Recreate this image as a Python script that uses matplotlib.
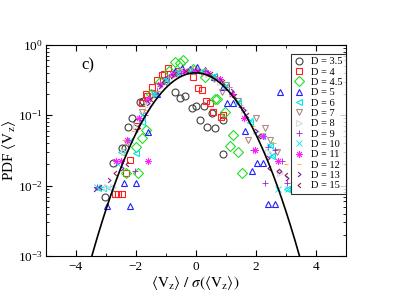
import numpy as np
import matplotlib
matplotlib.use('Agg')
import matplotlib.pyplot as plt
from matplotlib.path import Path
from matplotlib.ticker import MultipleLocator, LogLocator, NullFormatter

plt.rcParams['font.family'] = ['Liberation Serif', 'DejaVu Serif']
plt.rcParams['mathtext.fontset'] = 'stix'

# --- data: (x = <Vz>/sigma, y = PDF) per D ---
x_d35 = [-3.02, -2.74, -2.47, -2.36, -2.26, -2.13, -1.97, -1.86, -1.76, -0.69, -0.52, -0.36,
         -0.13, 0.01, 0.14, 0.28, 0.38, 0.53, 0.64, 0.9, 0.9]
y_d35 = [0.0068, 0.021, 0.034, 0.034, 0.069, 0.09, 0.081, 0.155, 0.16, 0.215, 0.175, 0.19,
         0.125, 0.135, 0.085, 0.135, 0.068, 0.108, 0.065, 0.085, 0.028]

x_d4 = [-2.69, -2.58, -2.45, -2.33, -2.19, -1.99, -1.8, -1.66, -1.62, -1.45, -1.3, -1.13,
        -1.06, -0.92, -0.6, -0.09, 0.08, 0.2, 0.33, 0.48, 0.58, 0.83, 0.91]
y_d4 = [0.0076, 0.0076, 0.0076, 0.015, 0.023, 0.07, 0.15, 0.2, 0.19, 0.25, 0.32, 0.37,
        0.39, 0.47, 0.42, 0.35, 0.24, 0.227, 0.16, 0.15, 0.11, 0.095, 0.1]

x_d45 = [-2.33, -1.93, -1.99, -1.78, -1.66, -1.5, -1.2, -0.9, -0.69, -0.52, -0.42, -0.1, 0.3,
         0.64, 0.7, 0.98, 1.14, 1.25, 1.41, 1.55]
y_d45 = [0.015, 0.015, 0.035, 0.047, 0.062, 0.2, 0.3, 0.42, 0.57, 0.55, 0.6, 0.45, 0.35,
         0.17, 0.168, 0.11, 0.036, 0.052, 0.030, 0.015]

x_d5 = [-2.97, -2.19, -2.39, -1.99, -1.6, -1.3, -1.0, -0.7, -0.47, -0.2, 0.05, 0.31, 0.6,
        0.9, 1.03, 1.25, 1.64, 1.87, 2.03, 2.25, 2.42, 2.64, 2.81]
y_d5 = [0.0052, 0.0052, 0.011, 0.011, 0.058, 0.2, 0.33, 0.42, 0.47, 0.45, 0.48, 0.44, 0.35,
        0.25, 0.147, 0.147, 0.06, 0.016, 0.021, 0.021, 0.0054, 0.0054, 0.21]

x_d6 = [-3.27, -3.08, -2.86, -2.5, -2.0, -1.8, -1.4, -1.0, -0.6, -0.2, 0.2, 0.6, 1.0, 1.4,
        1.8, 2.2, 2.48, 2.54, 3.03]
y_d6 = [0.0093, 0.0093, 0.0093, 0.03, 0.029, 0.08, 0.2, 0.33, 0.42, 0.44, 0.42, 0.36, 0.25,
        0.15, 0.08, 0.05, 0.038, 0.026, 0.009]

x_d7 = [-2.3, -1.8, -1.4, -1.0, -0.6, -0.2, 0.2, 0.6, 0.87, 1.0, 1.4, 1.74, 2.0, 2.31, 2.48, 2.7]
y_d7 = [0.04, 0.11, 0.2, 0.3, 0.38, 0.42, 0.4, 0.33, 0.215, 0.27, 0.16, 0.044, 0.09, 0.065,
        0.044, 0.03]

x_d8 = [-2.97, -2.76, -2.4, -2.0, -1.6, -1.2, -0.8, -0.4, 0.0, 0.4, 0.8, 1.2, 1.6, 2.0, 2.4, 2.8]
y_d8 = [0.0096, 0.0096, 0.03, 0.07, 0.14, 0.25, 0.35, 0.42, 0.42, 0.38, 0.3, 0.2, 0.12, 0.06,
        0.03, 0.015]

x_d9 = [-3.3, -2.5, -2.02, -1.7, -1.3, -0.9, -0.5, -0.1, 0.3, 0.7, 1.1, 1.5, 1.92, 2.31, 2.4,
        2.65, 2.87, 3.03]
y_d9 = [0.0095, 0.022, 0.016, 0.1, 0.22, 0.35, 0.4, 0.42, 0.43, 0.35, 0.25, 0.13, 0.032, 0.011,
        0.035, 0.032, 0.022, 0.011]

x_d10 = [-3.3, -2.6, -2.2, -1.8, -1.4, -1.0, -0.6, -0.2, 0.2, 0.6, 1.0, 1.4, 1.8, 2.2, 2.48,
         2.53, 2.75, 3.08]
y_d10 = [0.0095, 0.02, 0.045, 0.1, 0.2, 0.32, 0.4, 0.43, 0.42, 0.36, 0.27, 0.16, 0.085, 0.05,
         0.037, 0.027, 0.009, 0.009]

x_d11 = [-2.67, -2.49, -2.3, -1.6, -1.9, -1.6, -1.2, -0.8, -0.4, 0.0, 0.4, 0.8, 1.2, 1.6, 1.98,
         2.25, 2.75]
y_d11 = [0.022, 0.022, 0.045, 0.022, 0.09, 0.17, 0.28, 0.38, 0.42, 0.43, 0.4, 0.33, 0.2, 0.09,
         0.032, 0.05, 0.022]

x_d12 = [-2.4, -2.1, -1.7, -1.3, -0.9, -0.5, -0.1, 0.3, 0.7, 1.1, 1.5, 1.9, 2.2, 2.6, 3.0]
y_d12 = [0.045, 0.06, 0.12, 0.22, 0.35, 0.45, 0.5, 0.45, 0.35, 0.25, 0.14, 0.07, 0.055, 0.04, 0.02]

x_d13 = [-3.35, -2.9, -2.45, -2.0, -1.6, -1.2, -0.8, -0.4, 0.0, 0.4, 0.8, 1.2, 1.6, 2.0, 2.4,
         2.8, 3.05]
y_d13 = [0.009, 0.012, 0.018, 0.06, 0.15, 0.26, 0.36, 0.42, 0.42, 0.4, 0.32, 0.22, 0.12, 0.06,
         0.025, 0.016, 0.013]

x_d15 = [-3.2, -2.7, -2.3, -1.9, -1.5, -1.1, -0.7, -0.3, 0.1, 0.5, 0.9, 1.3, 1.7, 2.1, 2.45,
         2.75, 3.0]
y_d15 = [0.0095, 0.015, 0.02, 0.07, 0.17, 0.3, 0.38, 0.42, 0.42, 0.38, 0.3, 0.19, 0.1, 0.05,
         0.018, 0.016, 0.014]

# open caret markers (grace style "right"/"left" arrows)
caret_r = Path([(-0.6, 1), (0.6, 0), (-0.6, -1)], [Path.MOVETO, Path.LINETO, Path.LINETO])
caret_l = Path([(0.6, 1), (-0.6, 0), (0.6, -1)], [Path.MOVETO, Path.LINETO, Path.LINETO])

# label, x, y, marker, colour, open marker?
series = [
    ('D = 3.5', x_d35, y_d35, 'o', '#404040', True),
    ('D = 4', x_d4, y_d4, 's', '#ff2020', True),
    ('D = 4.5', x_d45, y_d45, 'D', '#22dd22', True),
    ('D = 5', x_d5, y_d5, '^', '#2020ff', True),
    ('D = 6', x_d6, y_d6, '<', '#00e5e5', True),
    ('D = 7', x_d7, y_d7, 'v', '#b08a80', True),
    ('D = 8', x_d8, y_d8, '>', '#d8d8d8', True),
    ('D = 9', x_d9, y_d9, '+', '#9a20e0', False),
    ('D = 10', x_d10, y_d10, 'x', '#00e5e5', False),
    ('D = 11', x_d11, y_d11, (8, 2, 0), '#ff20ff', False),
    ('D = 12', x_d12, y_d12, '_', '#ffa500', False),
    ('D = 13', x_d13, y_d13, caret_r, '#7a1fa0', True),
    ('D = 15', x_d15, y_d15, caret_l, '#8b2050', True),
]

fig = plt.figure(figsize=(4.15, 2.94), dpi=100)
ax = fig.add_axes([0.110, 0.129, 0.723, 0.719])

for lab, xs, ys, mk, col, hollow in series:
    ms = 5
    if mk == '_':
        ms = 2.5
    elif isinstance(mk, Path):
        ms = 3.5
    if hollow:
        ax.plot(xs, ys, ls='none', marker=mk, ms=ms, mfc='none', mec=col, mew=0.8, label=lab)
    else:
        ax.plot(xs, ys, ls='none', marker=mk, ms=ms, color=col, mew=0.6, label=lab)

# gaussian reference curve
v = np.linspace(-3.6, 3.6, 300)
ax.plot(v, np.exp(-v ** 2 / 2) / np.sqrt(2 * np.pi), color='black', lw=1.2)

ax.set_yscale('log')
ax.set_xlim(-5, 5)
ax.set_ylim(1e-3, 1)
ax.xaxis.set_major_locator(MultipleLocator(2))
ax.xaxis.set_minor_locator(MultipleLocator(1))
ax.yaxis.set_major_locator(LogLocator(base=10, numticks=10))
ax.yaxis.set_minor_locator(LogLocator(base=10, subs=np.arange(2, 10), numticks=10))
ax.yaxis.set_minor_formatter(NullFormatter())
ax.tick_params(which='both', direction='in', top=True, right=True, labelsize=9.5)
ax.tick_params(which='major', length=4, width=0.8)
ax.tick_params(which='minor', length=2, width=0.6)
ax.tick_params(axis='y', pad=2)

ax.set_xlabel(r'$\langle\mathrm{V_z}\rangle\ /\ \sigma(\langle\mathrm{V_z}\rangle)$', fontsize=11, labelpad=1)
ax.set_ylabel(r'PDF $\langle\mathrm{V_z}\rangle$', fontsize=11, labelpad=0)
ax.text(0.12, 0.9, 'c)', transform=ax.transAxes, fontsize=12, va='center')

leg = ax.legend(loc='upper right', bbox_to_anchor=(1.0, 0.956), fontsize=7.5, frameon=True,
                fancybox=False, borderaxespad=0, handlelength=1.0, handletextpad=0.6,
                labelspacing=0.1, borderpad=0.3, numpoints=1)
leg.get_frame().set_edgecolor('black')
leg.get_frame().set_linewidth(0.8)

fig.savefig('out.png', dpi=100)
